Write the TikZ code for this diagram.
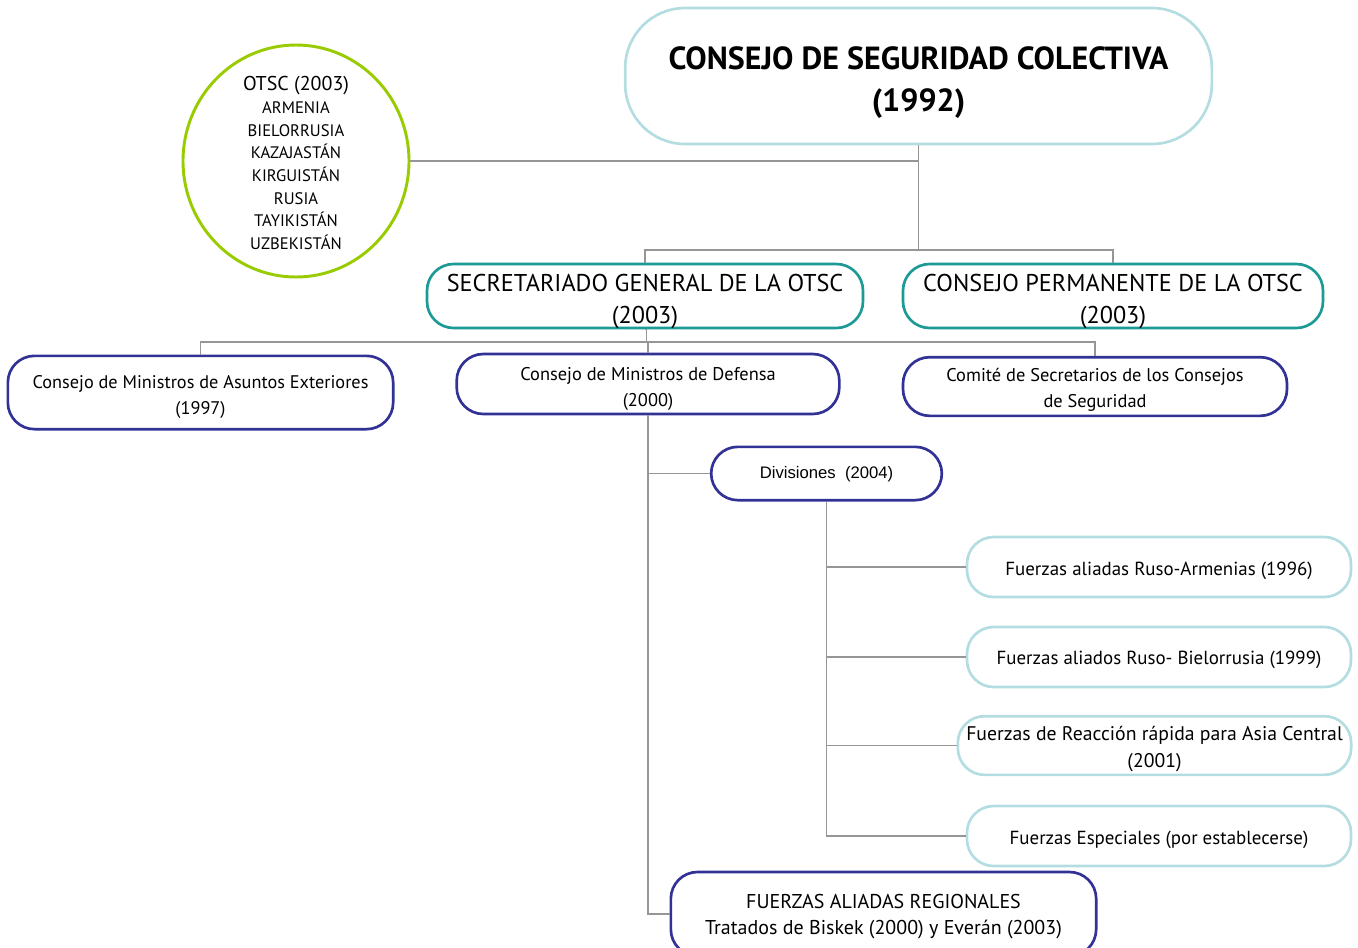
\documentclass[tikz,border=0pt]{standalone}
\usepackage{fontspec}
\setmainfont{PT Sans}
\newfontfamily\arialf{Liberation Sans}
\usetikzlibrary{shapes.geometric}
\definecolor{lblue}{RGB}{180,221,225}
\definecolor{tealc}{RGB}{28,155,150}
\definecolor{dblue}{RGB}{50,50,150}
\definecolor{greenc}{RGB}{153,204,0}
\definecolor{linec}{RGB}{150,150,150}
\newcommand{\txt}[2]{\raisebox{#1}[\height][\depth]{\begin{tabular}{@{}c@{}}#2\end{tabular}}}
\tikzset{
  box/.style={draw, rounded corners=20pt, line width=2pt, align=center, inner sep=0pt, fill=white},
  lbbox/.style={box, draw=lblue},
  tbox/.style={box, draw=tealc},
  dbbox/.style={box, draw=dblue},
  conn/.style={draw=linec, line width=0.8pt},
  t14/.style={font=\fontsize{13.8}{19.5}\selectfont},
}
\begin{document}
\begin{tikzpicture}[x=0.75pt,y=-0.75pt]
\useasboundingbox (0,0) rectangle (1358,947);
\clip (0,0) rectangle (1358,947);
% nodes
\node[lbbox, rounded corners=45pt, minimum width=440pt, minimum height=102pt,
      font=\fontsize{24}{31.5}\selectfont\bfseries] (title) at (918.5,76)
      {\txt{-4.3pt}{CONSEJO DE SEGURIDAD COLECTIVA\\(1992)}};
\node[ellipse, draw=greenc, line width=2.2pt, minimum width=169.5pt, minimum height=174pt,
      inner sep=-40pt, align=center, font=\fontsize{12.5}{17}\selectfont] (circ) at (296,161)
      {\txt{-3.4pt}{{\fontsize{15}{17}\selectfont OTSC (2003)}\\ARMENIA\\BIELORRUSIA\\KAZAJASTÁN\\KIRGUISTÁN\\RUSIA\\TAYIKISTÁN\\UZBEKISTÁN}};
\node[tbox, minimum width=327pt, minimum height=46.5pt, font=\fontsize{18.2}{24}\selectfont] (sec) at (645,296)
      {\txt{-3.6pt}{SECRETARIADO GENERAL DE LA OTSC\\(2003)}};
\node[tbox, minimum width=315pt, minimum height=46.5pt, font=\fontsize{18.2}{24}\selectfont] (perm) at (1113,296)
      {\txt{-3.6pt}{CONSEJO PERMANENTE DE LA OTSC\\(2003)}};
\node[dbbox, minimum width=289pt, minimum height=55pt, font=\fontsize{13.7}{19.5}\selectfont] (ext) at (200.5,392.5)
      {\txt{-3pt}{Consejo de Ministros de Asuntos Exteriores\\(1997)}};
\node[dbbox, minimum width=287pt, minimum height=45pt, t14] (def) at (648,384)
      {\txt{-3pt}{Consejo de Ministros de Defensa\\(2000)}};
\node[dbbox, minimum width=288pt, minimum height=44pt, t14] (com) at (1095,386.5)
      {\txt{-2.3pt}{Comité de Secretarios de los Consejos\\de Seguridad}};
\node[dbbox, minimum width=173pt, minimum height=40pt, font=\arialf\fontsize{12.5}{13}\selectfont] (div) at (826.5,473.5)
      {\txt{-1.5pt}{Divisiones\ \ (2004)}};
\node[lbbox, minimum width=288pt, minimum height=45pt, font=\fontsize{14.2}{19.5}\selectfont] (f1) at (1159,567)
      {\txt{-2.2pt}{Fuerzas aliadas Ruso-Armenias (1996)}};
\node[lbbox, minimum width=288pt, minimum height=45pt, font=\fontsize{14.2}{19.5}\selectfont] (f2) at (1159,657)
      {\txt{-1.5pt}{Fuerzas aliados Ruso- Bielorrusia (1999)}};
\node[lbbox, minimum width=295pt, minimum height=44pt, font=\fontsize{14.8}{20}\selectfont] (f3) at (1154.5,745.5)
      {\txt{-2.6pt}{Fuerzas de Reacción rápida para Asia Central\\(2001)}};
\node[lbbox, minimum width=288pt, minimum height=45pt, font=\fontsize{14.2}{19.5}\selectfont] (f4) at (1159,836)
      {\txt{-2.2pt}{Fuerzas Especiales (por establecerse)}};
\node[dbbox, minimum width=319pt, minimum height=63pt, font=\fontsize{15}{19.5}\selectfont] (far) at (883.5,914)
      {\txt{-1.5pt}{FUERZAS ALIADAS REGIONALES\\Tratados de Biskek (2000) y Everán (2003)}};
% junctions
\coordinate (j0) at (918.5,161);
\coordinate (j1) at (918.5,250);
\coordinate (j2) at (646.5,342);
% connectors
\draw[conn] (circ.east) -- (j0);
\draw[conn] (title.south) -- (j1);
\draw[conn] (sec.north) |- (j1) -| (perm.north);
\draw[conn] (sec.south) -| (j2);
\draw[conn] (ext.north) |- (j2) -| (com.north);
\draw[conn] (j2) -| (def.north);
\draw[conn] (def.south) |- (div.west);
\draw[conn] (def.south) |- (far.west);
\draw[conn] (div.south) |- (f1.west);
\draw[conn] (div.south) |- (f2.west);
\draw[conn] (div.south) |- (f3.west);
\draw[conn] (div.south) |- (f4.west);
\end{tikzpicture}
\end{document}
